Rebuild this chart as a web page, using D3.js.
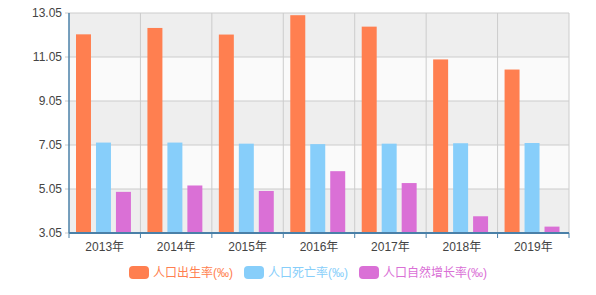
<!DOCTYPE html>
<head>
<meta charset="utf-8">
<title>人口出生率 死亡率 自然增长率</title>
<script src="https://d3js.org/d3.v7.min.js"></script>
<style>
body { margin: 0; background: #fff; }
text { font-family: "Liberation Sans", Arial, "Noto Sans CJK SC", sans-serif; }
</style>
</head>
<body>
<div id="container"></div>
<script>
//---------------------------DATA---------------------------//
const years = ["2013年", "2014年", "2015年", "2016年", "2017年", "2018年", "2019年"];
const seriesNames = ["人口出生率(‰)", "人口死亡率(‰)", "人口自然增长率(‰)"];
const birthRate = [12.08, 12.37, 12.07, 12.95, 12.43, 10.94, 10.48];
const deathRate = [7.16, 7.16, 7.11, 7.09, 7.11, 7.13, 7.14];
const growthRate = [4.92, 5.21, 4.96, 5.86, 5.32, 3.81, 3.34];
const yTicks = [3.05, 5.05, 7.05, 9.05, 11.05, 13.05];
const colors = ["#ff7f50", "#87cefa", "#da70d6"];

const allSeries = [birthRate, deathRate, growthRate];

//---------------------------SVG----------------------------//
const width = 596, height = 295;
const margin = {top: 13, right: 27, bottom: 62, left: 69};
const w = width - margin.left - margin.right;
const h = height - margin.top - margin.bottom;

const svg = d3.select("#container").append("svg")
    .attr("width", width)
    .attr("height", height);

const g = svg.append("g")
    .attr("transform", "translate(" + margin.left + "," + margin.top + ")");

//--------------------------SCALES--------------------------//
const x0 = d3.scaleBand().domain(years).range([0, w]);
const x1 = d3.scaleBand().domain(seriesNames)
    .range([7, x0.bandwidth() - 9.5])
    .paddingInner(0.25);
const y = d3.scaleLinear().domain([3.05, 13.05]).range([h, 0]);

//-----------------------BACKGROUND-------------------------//
// alternating bands between ticks
g.selectAll("rect.band")
    .data(d3.pairs(yTicks))
    .join("rect")
    .attr("class", "band")
    .attr("x", 0)
    .attr("width", w)
    .attr("y", d => y(d[1]))
    .attr("height", d => y(d[0]) - y(d[1]))
    .attr("fill", (d, i) => i % 2 === 0 ? "#eeeeee" : "#fafafa");

// grid
g.selectAll("line.hgrid")
    .data(yTicks)
    .join("line")
    .attr("class", "hgrid")
    .attr("x1", -4).attr("x2", w)
    .attr("y1", d => y(d)).attr("y2", d => y(d))
    .attr("stroke", "#cccccc");

g.selectAll("line.vgrid")
    .data(years.slice(1).concat(["end"]))
    .join("line")
    .attr("class", "vgrid")
    .attr("x1", (d, i) => (i + 1) * x0.step())
    .attr("x2", (d, i) => (i + 1) * x0.step())
    .attr("y1", 0).attr("y2", h)
    .attr("stroke", "#cccccc");

//---------------------------BARS---------------------------//
const groups = g.selectAll("g.year")
    .data(years)
    .join("g")
    .attr("class", "year")
    .attr("transform", d => "translate(" + x0(d) + ",0)");

groups.selectAll("rect")
    .data((d, i) => allSeries.map((s, k) => ({name: seriesNames[k], value: s[i], k: k})))
    .join("rect")
    .attr("x", d => x1(d.name))
    .attr("width", x1.bandwidth())
    .attr("y", d => y(d.value))
    .attr("height", d => h - y(d.value))
    .attr("fill", d => colors[d.k]);

//---------------------------AXES---------------------------//
const yAxis = g.append("g")
    .call(d3.axisLeft(y).tickValues(yTicks).tickFormat(d3.format(".2f")).tickSize(0).tickPadding(7));
yAxis.select(".domain").remove();
yAxis.selectAll("text").attr("fill", "#444").style("font-size", "12px");

g.append("line")
    .attr("x1", 0).attr("x2", 0)
    .attr("y1", 0).attr("y2", h)
    .attr("stroke", "#4a80a8").attr("stroke-width", 1.5);

const xAxis = g.append("g")
    .attr("transform", "translate(0," + h + ")")
    .call(d3.axisBottom(x0).tickSize(0).tickPadding(9));
xAxis.select(".domain").remove();
xAxis.selectAll("text").attr("fill", "#444").style("font-size", "12px");

// category boundary ticks
g.selectAll("line.xtick")
    .data(d3.range(years.length + 1))
    .join("line")
    .attr("class", "xtick")
    .attr("x1", d => d * x0.step()).attr("x2", d => d * x0.step())
    .attr("y1", h).attr("y2", h + 5)
    .attr("stroke", "#4a80a8");

g.append("line")
    .attr("x1", 0).attr("x2", w)
    .attr("y1", h).attr("y2", h)
    .attr("stroke", "#4a80a8").attr("stroke-width", 2);

//--------------------------LEGEND--------------------------//
const legendX = [129, 244, 359];
const legend = svg.selectAll("g.legend")
    .data(seriesNames)
    .join("g")
    .attr("class", "legend")
    .attr("transform", (d, i) => "translate(" + legendX[i] + ",266)");

legend.append("rect")
    .attr("width", 20).attr("height", 13)
    .attr("rx", 4)
    .attr("fill", (d, i) => colors[i]);

legend.append("text")
    .attr("x", 24).attr("y", 11)
    .style("font-size", "12px")
    .attr("fill", (d, i) => colors[i])
    .text(d => d);
</script>
</body>
